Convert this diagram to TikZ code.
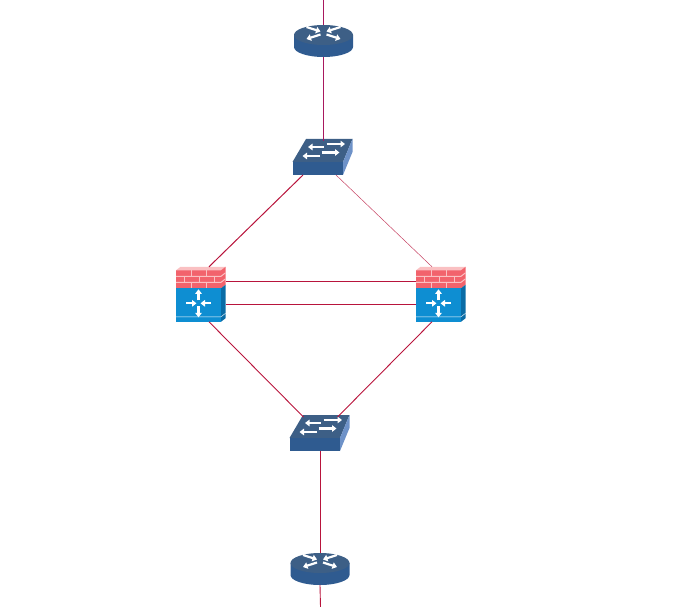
\documentclass[tikz,border=0pt]{standalone}
\usepackage{xcolor}
\usetikzlibrary{arrows.meta}

\definecolor{topblue}{HTML}{3D5F86}
\definecolor{sideblue}{HTML}{2F5B90}
\definecolor{lightblue}{HTML}{6E92C8}
\definecolor{brick}{HTML}{F2636C}
\definecolor{mortar}{HTML}{FAC0C2}
\definecolor{fwblue}{HTML}{0E8ED2}
\definecolor{fwside}{HTML}{0A6CA6}
\definecolor{linkred}{HTML}{B8143C}
\definecolor{linkplum}{HTML}{A8185E}

\begin{document}
\begin{tikzpicture}[
    x=1pt, y=-1pt,
    device/.style={inner sep=0pt, outer sep=0pt},
    routerbox/.style={device, minimum width=59pt, minimum height=32pt},
    switchbox/.style={device, minimum width=60pt, minimum height=36pt},
    firewallbox/.style={device, minimum width=50pt, minimum height=55pt},
    link/.style={linkred, line width=0.9pt},
    whitearrow/.style={white, line width=2.2pt, -{Triangle[length=4.5pt, width=6.5pt]}},
    routericon/.pic={
        \fill[sideblue] (-29.5,-6) -- (-29.5,6) arc[start angle=180, end angle=360, x radius=29.5, y radius=-10]
            -- (29.5,-6) -- cycle;
        \fill[topblue] (0,-6) ellipse[x radius=29.5, y radius=10];
        % crossed arrows
        \draw[whitearrow] (-17,-14) -- (-3,-9.5);
        \draw[whitearrow] (17,-14) -- (3,-9.5);
        \draw[whitearrow] (-3,-6.5) -- (-17,-2);
        \draw[whitearrow] (3,-6.5) -- (17,-2);
    },
    switchicon/.pic={
        \fill[topblue] (-16.5,-18) -- (30,-18) -- (20.5,5) -- (-30,5) -- cycle;
        \fill[sideblue] (-30,5) rectangle (20.5,18);
        \fill[lightblue] (20.5,5) -- (30,-18) -- (30,-5) -- (20.5,18) -- cycle;
        % two rows of arrows
        \draw[whitearrow] (1,-10) -- (-14.5,-10);
        \draw[whitearrow] (4,-13) -- (22.5,-13);
        \draw[whitearrow] (-2.5,-1) -- (-20,-1);
        \draw[whitearrow] (-1,-4.5) -- (17,-4.5);
    },
    firewallicon/.pic={
        \fill[brick] (-25,-24) rectangle (20,-6);
        \fill[mortar] (-25,-24) -- (-20.5,-27.5) -- (24.5,-27.5) -- (20,-24) -- cycle;
        \fill[brick] (20,-24) -- (24.5,-27.5) -- (24.5,-9.5) -- (20,-6) -- cycle;
        \fill[fwblue] (-25,-6) rectangle (20,27.5);
        \fill[fwside] (20,-6) -- (24.5,-9.5) -- (24.5,24) -- (20,27.5) -- cycle;
        \draw[white, line width=0.4pt] (-25,22.5) -- (20,22.5) -- (24.5,19);
        % mortar lines
        \foreach \yy in {-18,-12}
            \draw[mortar, line width=1pt] (-25,\yy) -- (20,\yy) -- (24.5,\yy-3.5);
        \foreach \xx in {-10,5}
            \draw[mortar, line width=1pt] (\xx,-24) -- (\xx,-18) (\xx,-12) -- (\xx,-6);
        \foreach \xx in {-17,-2,13}
            \draw[mortar, line width=1pt] (\xx,-18) -- (\xx,-12);
        % four arrows
        \draw[whitearrow] (-15,9) -- (-4.5,9);
        \draw[whitearrow] (10,9) -- (-0.5,9);
        \draw[whitearrow] (-2.5,6) -- (-2.5,-5);
        \draw[whitearrow] (-2.5,12) -- (-2.5,23);
    },
]

\useasboundingbox (0,0) rectangle (691,607);

\coordinate (uplink) at (323.5,0);
\coordinate (downlink) at (320.5,607);

\node[routerbox] (routertop) at (323.5,41) {};
\node[switchbox] (switchtop) at (322.5,157) {};
\node[firewallbox] (fwleft) at (201,294.3) {};
\node[firewallbox] (fwright) at (441,294.3) {};
\node[switchbox] (switchbot) at (319.5,433) {};
\node[routerbox] (routerbot) at (320,569) {};

\pic at (routertop) {routericon};
\pic at (switchtop) {switchicon};
\pic at (fwleft) {firewallicon};
\pic at (fwright) {firewallicon};
\pic at (switchbot) {switchicon};
\pic at (routerbot) {routericon};

% uplink through top router
\draw[linkplum, line width=1pt] (uplink) -- (routertop.north);
\draw[linkplum, line width=1pt] (routertop.south) -- ([yshift=-2pt]switchtop.north -| routertop.south);

% top switch to firewalls
\draw[link, line width=1pt] ([xshift=-19.5pt]switchtop.south) -- ([xshift=8pt]fwleft.north);
\draw[link, line width=0.5pt, opacity=0.8] ([xshift=13.5pt]switchtop.south) -- ([xshift=-9pt]fwright.north);

% between firewalls
\draw[link] ([yshift=13.3pt]fwleft.east) -- ([yshift=13.3pt]fwright.west);
\draw[link] ([yshift=-9.7pt]fwleft.east) -- ([yshift=-9.7pt]fwright.west);

% firewalls to bottom switch
\draw[link] ([xshift=8pt]fwleft.south) -- ([xshift=-16pt,yshift=-2pt]switchbot.north);
\draw[link] ([xshift=-9pt]fwright.south) -- ([xshift=18pt,yshift=-2pt]switchbot.north);

% downlink through bottom router
\draw[link] (switchbot.south -| routerbot.north) -- (routerbot.north);
\draw[link] (routerbot.south) -- (downlink);

\end{tikzpicture}
\end{document}
